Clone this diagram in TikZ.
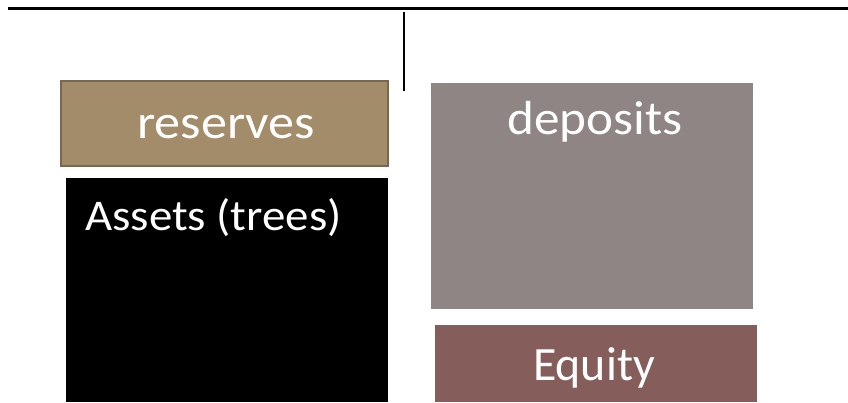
\documentclass[tikz,border=0pt]{standalone}
\usepackage{fontspec}
\setmainfont{Carlito}
\newfontfamily\widea[FakeStretch=1.09]{Carlito}
\newfontfamily\wideb[FakeStretch=1.07]{Carlito}
\definecolor{reservefill}{HTML}{A38C6A}
\definecolor{reserveedge}{HTML}{7A684C}
\definecolor{depositfill}{HTML}{8F8585}
\definecolor{equityfill}{HTML}{855E5C}
\begin{document}
\begin{tikzpicture}[x=1bp,y=-1bp,
  label/.style={text=white,inner sep=0pt,anchor=base west}]
\useasboundingbox (0,0) rectangle (848,402);
\fill[white] (0,0) rectangle (848,402);
% T-account frame
\coordinate (tl) at (8,8);
\coordinate (tr) at (848,8);
\coordinate (vt) at (404,12);
\coordinate (vb) at (404,91);
\draw[line width=3bp] (tl) -- (tr);
\draw[line width=1.5bp] (vt) -- (vb);
% asset side
\filldraw[fill=reservefill,draw=reserveedge,line width=2bp] (61,81) rectangle (388,166);
\fill[black] (66,178) rectangle (388,402);
% liability side
\fill[depositfill] (431,83) rectangle (753,309);
\fill[equityfill] (435,325) rectangle (757,402);
% labels
\node[label,font=\widea\fontsize{48}{50}\selectfont] (res) at (137,138) {reserves};
\node[label,font=\wideb\fontsize{44}{46}\selectfont] (ast) at (85,230) {Assets (trees)};
\node[label,font=\wideb\fontsize{48}{50}\selectfont] (dep) at (507,134) {deposits};
\node[label,font=\fontsize{48}{50}\selectfont] (eq) at (533,380) {Equity};
\end{tikzpicture}
\end{document}
